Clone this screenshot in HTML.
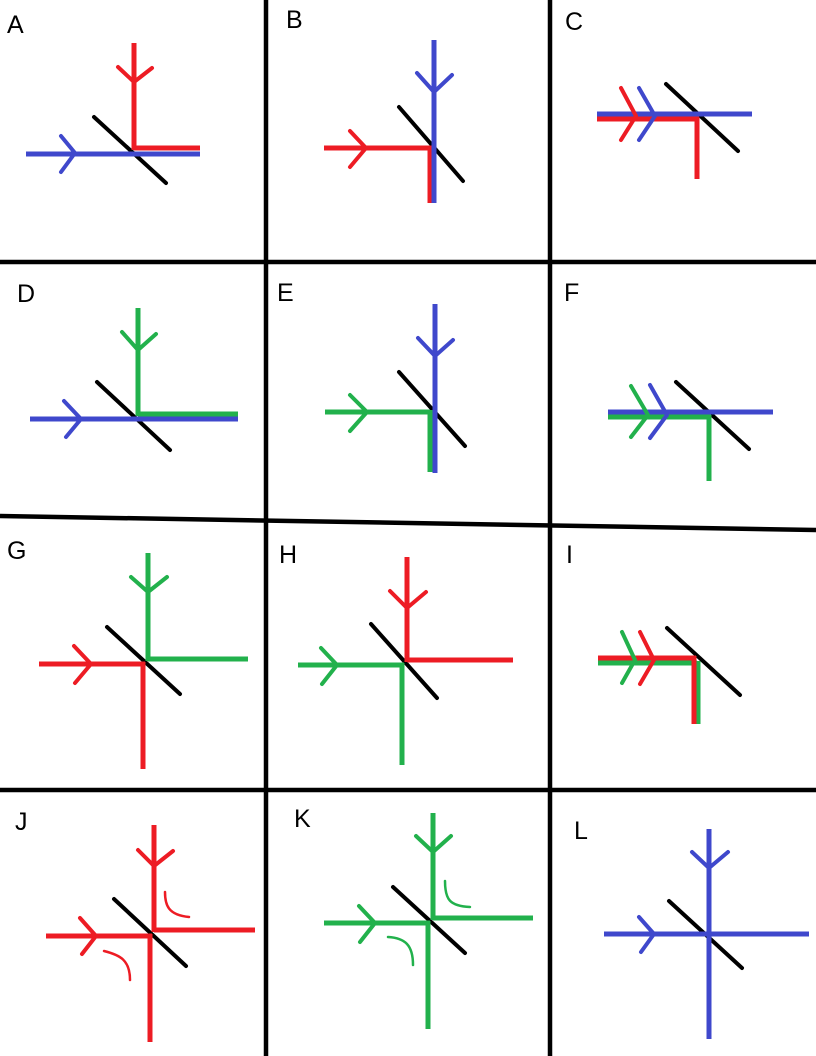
<!DOCTYPE html>
<html><head><meta charset="utf-8"><style>
html,body{margin:0;padding:0;background:#fff}
svg{display:block}
text{font-family:"Liberation Sans",sans-serif;font-size:25px;fill:#000}
.r{stroke:#ed1c24}.b{stroke:#3f48cc}.g{stroke:#22b14c}.k{stroke:#000}
line,polyline,path{fill:none;stroke-width:5}
.a{stroke-width:4;stroke-linecap:round;stroke-linejoin:round}
.k{stroke-width:4;stroke-linecap:round}
.t{stroke-width:2.5;stroke-linecap:round}
.grid{stroke:#000;stroke-width:4.5}
</style></head><body>
<svg width="816" height="1056" viewBox="0 0 816 1056" xmlns="http://www.w3.org/2000/svg">
<!-- grid -->
<line class="grid" x1="266" y1="0" x2="266" y2="1056"/>
<line class="grid" x1="550" y1="0" x2="550" y2="1056"/>
<line class="grid" x1="0" y1="262" x2="816" y2="262"/>
<line class="grid" x1="0" y1="516" x2="816" y2="530"/>
<line class="grid" x1="0" y1="790" x2="816" y2="790"/>

<!-- labels -->
<text x="7" y="33">A</text><text x="286" y="28">B</text><text x="565" y="30">C</text>
<text x="17" y="302">D</text><text x="277" y="301">E</text><text x="564" y="301">F</text>
<text x="7" y="559">G</text><text x="279" y="563">H</text><text x="566" y="563">I</text>
<text x="15" y="830">J</text><text x="294" y="827">K</text><text x="574" y="839">L</text>

<!-- A -->
<line class="k" x1="94" y1="117" x2="166" y2="183"/>
<line class="r" x1="134" y1="43" x2="134" y2="150"/>
<line class="r" x1="134" y1="148" x2="200" y2="148"/>
<line class="b" x1="26" y1="154" x2="200" y2="154"/>
<polyline class="a r" points="118,67 134,82 152,68"/>
<polyline class="a b" points="61,136 75,153 61,172"/>

<!-- B -->
<line class="k" x1="399" y1="107" x2="463" y2="181"/>
<line class="r" x1="324" y1="148" x2="432" y2="148"/>
<line class="r" x1="430" y1="146" x2="430" y2="203"/>
<line class="b" x1="434" y1="40" x2="434" y2="203"/>
<polyline class="a b" points="417,73 434,92 452,75"/>
<polyline class="a r" points="350,131 366,148 350,167"/>

<!-- C -->
<line class="k" x1="666" y1="84" x2="738" y2="151"/>
<line class="b" x1="597" y1="114" x2="752" y2="114"/>
<line class="r" x1="597" y1="119" x2="699" y2="119"/>
<line class="r" x1="697" y1="117" x2="697" y2="179"/>
<polyline class="a r" points="621,88 636,116 621,140"/>
<polyline class="a b" points="639,88 655,116 639,140"/>

<!-- D -->
<line class="k" x1="97" y1="382" x2="170" y2="450"/>
<line class="g" x1="138" y1="308" x2="138" y2="416"/>
<line class="g" x1="138" y1="414" x2="238" y2="414"/>
<line class="b" x1="30" y1="419" x2="238" y2="419"/>
<polyline class="a g" points="122,332 138,350 156,334"/>
<polyline class="a b" points="64,401 81,419 66,437"/>

<!-- E -->
<line class="k" x1="399" y1="372" x2="465" y2="446"/>
<line class="g" x1="325" y1="412" x2="430" y2="412"/>
<line class="g" x1="430" y1="410" x2="430" y2="472"/>
<line class="b" x1="435" y1="304" x2="435" y2="473"/>
<polyline class="a b" points="418,338 435,356 453,340"/>
<polyline class="a g" points="350,395 367,412 350,431"/>

<!-- F -->
<line class="k" x1="676" y1="382" x2="749" y2="449"/>
<line class="b" x1="608" y1="412" x2="773" y2="412"/>
<line class="g" x1="608" y1="417" x2="711" y2="417"/>
<line class="g" x1="709" y1="415" x2="709" y2="481"/>
<polyline class="a g" points="631,386 648,415 631,437"/>
<polyline class="a b" points="650,385 667,415 650,438"/>

<!-- G -->
<line class="k" x1="107" y1="627" x2="180" y2="694"/>
<line class="g" x1="148" y1="553" x2="148" y2="661"/>
<line class="g" x1="148" y1="659" x2="248" y2="659"/>
<line class="r" x1="39" y1="664" x2="145" y2="664"/>
<line class="r" x1="143" y1="662" x2="143" y2="769"/>
<polyline class="a g" points="131,577 148,592 167,577"/>
<polyline class="a r" points="74,646 91,664 75,683"/>

<!-- H -->
<line class="k" x1="371" y1="624" x2="437" y2="698"/>
<line class="r" x1="407" y1="557" x2="407" y2="662"/>
<line class="r" x1="407" y1="660" x2="513" y2="660"/>
<line class="g" x1="298" y1="665" x2="404" y2="665"/>
<line class="g" x1="402" y1="663" x2="402" y2="765"/>
<polyline class="a r" points="390,591 407,608 426,592"/>
<polyline class="a g" points="321,648 337,665 322,684"/>

<!-- I -->
<line class="k" x1="667" y1="628" x2="740" y2="695"/>
<line class="r" x1="598" y1="658" x2="696" y2="658"/>
<line class="g" x1="598" y1="663" x2="697" y2="663"/>
<line class="g" x1="698" y1="661" x2="698" y2="724"/>
<line class="r" x1="694" y1="656" x2="694" y2="724"/>
<polyline class="a g" points="622,632 635,660 622,683"/>
<polyline class="a r" points="640,632 654,660 640,684"/>

<!-- J -->
<line class="k" x1="114" y1="899" x2="186" y2="966"/>
<line class="r" x1="154" y1="825" x2="154" y2="932"/>
<line class="r" x1="154" y1="930" x2="255" y2="930"/>
<line class="r" x1="46" y1="936" x2="152" y2="936"/>
<line class="r" x1="150" y1="934" x2="150" y2="1042"/>
<polyline class="a r" points="138,850 154,866 173,851"/>
<polyline class="a r" points="80,918 96,936 82,954"/>
<path class="t r" d="M165 892 C165 905,168 915,189 917"/>
<path class="t r" d="M104 951 C120 955,130 960,130 980"/>

<!-- K -->
<line class="k" x1="393" y1="887" x2="465" y2="953"/>
<line class="g" x1="433" y1="813" x2="433" y2="920"/>
<line class="g" x1="433" y1="918" x2="533" y2="918"/>
<line class="g" x1="324" y1="923" x2="430" y2="923"/>
<line class="g" x1="428" y1="921" x2="428" y2="1029"/>
<polyline class="a g" points="416,836 433,852 451,836"/>
<polyline class="a g" points="359,906 375,923 360,942"/>
<path class="t g" d="M445 881 C445 900,450 906,470 907"/>
<path class="t g" d="M388 937 C405 938,413 945,413 965"/>

<!-- L -->
<line class="k" x1="669" y1="901" x2="742" y2="968"/>
<line class="b" x1="709" y1="829" x2="709" y2="1039"/>
<line class="b" x1="604" y1="934" x2="809" y2="934"/>
<polyline class="a b" points="692,852 709,868 728,852"/>
<polyline class="a b" points="639,917 654,934 641,952"/>
</svg>
</body></html>
